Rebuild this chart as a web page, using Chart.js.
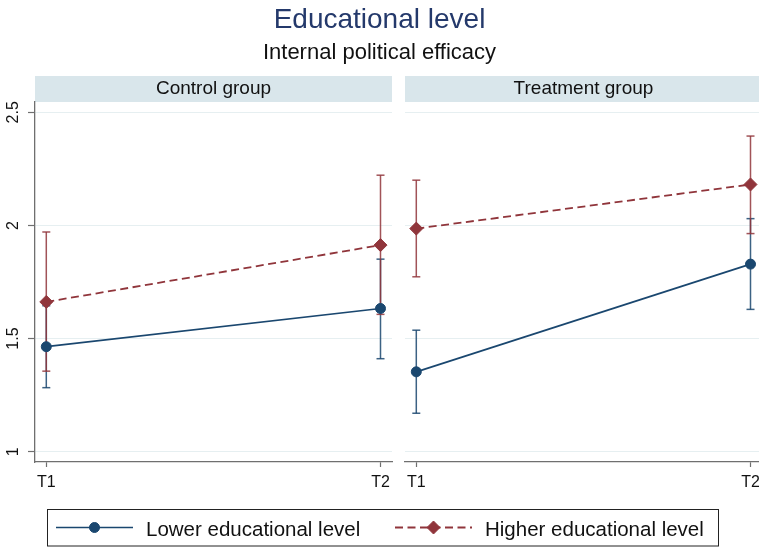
<!DOCTYPE html>
<html>
<head>
<meta charset="utf-8">
<script src="https://cdn.jsdelivr.net/npm/chart.js@4.4.1/dist/chart.umd.min.js"></script>
<style>
  html, body { margin: 0; padding: 0; background: #fff; overflow: hidden; }
  #wrap { position: relative; width: 759px; height: 549px; overflow: hidden; background: #fff; }
  #wrap canvas { position: absolute; top: 0; }
</style>
</head>
<body>
<div id="wrap">
  <canvas id="panelLeft" width="759" height="549" style="left:0"></canvas>
  <canvas id="panelRight" width="405" height="549" style="left:370px"></canvas>
</div>
<script>
// ---- data ----
const periods = ['T1', 'T2'];
const panelTitles = ['Control group', 'Treatment group'];
const seriesNames = ['Lower educational level', 'Higher educational level'];
const yTickValues = [1, 1.5, 2, 2.5];

// control group: predicted means with 95% confidence bounds, per period
const controlLowerMean  = [1.464, 1.633];
const controlLowerLo    = [1.283, 1.411];
const controlLowerHi    = [1.645, 1.851];
const controlHigherMean = [1.662, 1.913];
const controlHigherLo   = [1.356, 1.607];
const controlHigherHi   = [1.971, 2.222];

// treatment group
const treatLowerMean  = [1.353, 1.829];
const treatLowerLo    = [1.170, 1.629];
const treatLowerHi    = [1.537, 2.030];
const treatHigherMean = [1.986, 2.181];
const treatHigherLo   = [1.773, 1.964];
const treatHigherHi   = [2.200, 2.395];

// ---- styling ----
const FONT = "'Liberation Sans', Arial, Helvetica, sans-serif";
const BLUE = '#1a476f';
const RED = '#90353b';
const BLUE_CI = 'rgba(26,71,111,0.85)';
const RED_CI = 'rgba(144,53,59,0.85)';
const AXIS = '#6f6f6f';
const GRID = '#e6eff1';
const STRIP = '#d9e6eb';
const TEXT = '#111111';

const X_MIN = -0.0338, X_MAX = 1.0344;
const Y_MIN = 0.9545, Y_MAX = 2.5455;

const toPoints = vals => vals.map((v, i) => ({ x: i, y: v }));
const toBars = (lo, hi) => {
  const out = [];
  lo.forEach((l, i) => { out.push({ x: i, y: l }, { x: i, y: hi[i] }, { x: i, y: null }); });
  return out;
};

function buildDatasets(lowMean, lowLo, lowHi, highMean, highLo, highHi) {
  return [
    { label: seriesNames[0], data: toPoints(lowMean), order: 1,
      borderColor: BLUE, backgroundColor: BLUE, borderWidth: 1.7,
      pointStyle: 'circle', pointRadius: 5, pointBorderWidth: 1, pointBorderColor: BLUE, pointBackgroundColor: BLUE },
    { label: seriesNames[1], data: toPoints(highMean), order: 0,
      borderColor: RED, backgroundColor: RED, borderWidth: 1.8, borderDash: [8, 4.5],
      pointStyle: 'rectRot', pointRadius: 6.5, pointBorderWidth: 1, pointBorderColor: RED, pointBackgroundColor: RED },
    { label: 'ci-low', ci: true, data: toBars(lowLo, lowHi), order: 3, spanGaps: false,
      borderColor: BLUE_CI, borderWidth: 1.5, pointStyle: 'line', pointRadius: 4,
      pointBorderColor: BLUE_CI, pointBorderWidth: 1.5 },
    { label: 'ci-high', ci: true, data: toBars(highLo, highHi), order: 2, spanGaps: false,
      borderColor: RED_CI, borderWidth: 1.5, pointStyle: 'line', pointRadius: 4,
      pointBorderColor: RED_CI, pointBorderWidth: 1.5 }
  ];
}

// grey strip with the panel name above each plot area
const panelHeader = {
  id: 'panelHeader',
  beforeDraw(chart, args, opts) {
    const { ctx, chartArea } = chart;
    ctx.save();
    ctx.fillStyle = STRIP;
    ctx.fillRect(chartArea.left, 76, chartArea.right - chartArea.left, 26);
    ctx.fillStyle = TEXT;
    ctx.font = '19px ' + FONT;
    ctx.textAlign = 'center';
    ctx.textBaseline = 'middle';
    ctx.fillText(opts.text, (chartArea.left + chartArea.right) / 2, 89);
    ctx.restore();
  }
};

function drawMarker(ctx, ds, x, y) {
  const opts = { pointStyle: ds.pointStyle, radius: ds.pointRadius, borderWidth: ds.pointBorderWidth, rotation: 0 };
  ctx.fillStyle = ds.pointBackgroundColor;
  ctx.strokeStyle = ds.pointBorderColor;
  ctx.lineWidth = ds.pointBorderWidth;
  if (Chart.helpers && Chart.helpers.drawPoint) {
    Chart.helpers.drawPoint(ctx, opts, x, y);
  } else {
    ctx.beginPath();
    if (ds.pointStyle === 'rectRot') {
      const r = ds.pointRadius;
      ctx.moveTo(x - r, y); ctx.lineTo(x, y - r); ctx.lineTo(x + r, y); ctx.lineTo(x, y + r); ctx.closePath();
    } else {
      ctx.arc(x, y, ds.pointRadius, 0, Math.PI * 2);
    }
    ctx.fill(); ctx.stroke();
  }
}

// boxed legend along the bottom: line sample with marker, then the series name
const boxedLegend = {
  id: 'boxedLegend',
  afterDraw(chart) {
    const { ctx } = chart;
    const series = chart.data.datasets.filter(d => !d.ci);
    ctx.save();
    ctx.strokeStyle = '#222';
    ctx.lineWidth = 1;
    ctx.strokeRect(47.5, 509.5, 671, 36.5);
    const starts = [56, 395];
    const cy = 527.5;
    series.forEach((ds, i) => {
      const sx = starts[i];
      ctx.save();
      ctx.strokeStyle = ds.borderColor;
      ctx.lineWidth = ds.borderWidth;
      ctx.setLineDash(ds.borderDash || []);
      ctx.beginPath();
      ctx.moveTo(sx, cy);
      ctx.lineTo(sx + 77, cy);
      ctx.stroke();
      ctx.restore();
      drawMarker(ctx, ds, sx + 38.5, cy);
      ctx.fillStyle = TEXT;
      ctx.font = '20.5px ' + FONT;
      ctx.textAlign = 'left';
      ctx.textBaseline = 'alphabetic';
      ctx.fillText(ds.label, sx + 90, 536);
    });
    ctx.restore();
  }
};

function panelOptions(withAxis, headerText, extra) {
  const scales = {
    x: {
      type: 'linear', min: X_MIN, max: X_MAX,
      afterBuildTicks: s => { s.ticks = periods.map((_, i) => ({ value: i })); },
      ticks: { callback: v => periods[v], font: { family: FONT, size: 16 }, color: TEXT,
               padding: 6, autoSkip: false, maxRotation: 0, minRotation: 0 },
      grid: { drawOnChartArea: false, drawTicks: true, tickLength: 5, tickColor: AXIS, tickWidth: 1.2 },
      border: { display: true, color: AXIS, width: 1.3 },
      afterFit: s => { s.height = 40; }
    },
    y: {
      type: 'linear', min: Y_MIN, max: Y_MAX,
      afterBuildTicks: s => { s.ticks = yTickValues.map(v => ({ value: v })); },
      ticks: { display: withAxis, callback: v => String(v), font: { family: FONT, size: 16 }, color: TEXT,
               padding: 3, minRotation: 90, maxRotation: 90, crossAlign: 'center', autoSkip: false },
      grid: { color: GRID, lineWidth: 1, drawTicks: withAxis, tickLength: 7, tickColor: AXIS, tickWidth: 1.2 },
      border: { display: withAxis, color: AXIS, width: 1.3 },
      afterFit: s => { s.width = 35; }
    }
  };
  Object.assign(scales, extra.scales || {});
  return {
    responsive: false,
    animation: false,
    events: [],
    layout: { padding: extra.padding },
    elements: { line: { tension: 0 } },
    scales,
    plugins: Object.assign({
      legend: { display: false },
      tooltip: { enabled: false },
      panelHeader: { text: headerText }
    }, extra.plugins || {})
  };
}

// left panel (carries the titles and the legend)
new Chart(document.getElementById('panelLeft'), {
  type: 'line',
  data: { datasets: buildDatasets(controlLowerMean, controlLowerLo, controlLowerHi,
                                  controlHigherMean, controlHigherLo, controlHigherHi) },
  options: panelOptions(true, panelTitles[0], {
    padding: { top: 0, right: 0, bottom: 47, left: 0 },
    scales: {
      ySpace: { type: 'linear', position: 'right', display: true,
                ticks: { display: false }, grid: { display: false }, border: { display: false },
                afterFit: s => { s.width = 367; } }
    },
    plugins: {
      title: { display: true, text: 'Educational level', color: '#24396b',
               font: { family: FONT, size: 28, weight: 'normal' }, padding: { top: 3, bottom: 0 } },
      subtitle: { display: true, text: 'Internal political efficacy', color: TEXT,
                  font: { family: FONT, size: 22, weight: 'normal' }, padding: { top: 3, bottom: 36 } }
    }
  }),
  plugins: [panelHeader, boxedLegend]
});

// right panel
new Chart(document.getElementById('panelRight'), {
  type: 'line',
  data: { datasets: buildDatasets(treatLowerMean, treatLowerLo, treatLowerHi,
                                  treatHigherMean, treatHigherLo, treatHigherHi) },
  options: panelOptions(false, panelTitles[1], {
    padding: { top: 102, right: 13, bottom: 47, left: 0 }
  }),
  plugins: [panelHeader]
});
</script>
</body>
</html>
